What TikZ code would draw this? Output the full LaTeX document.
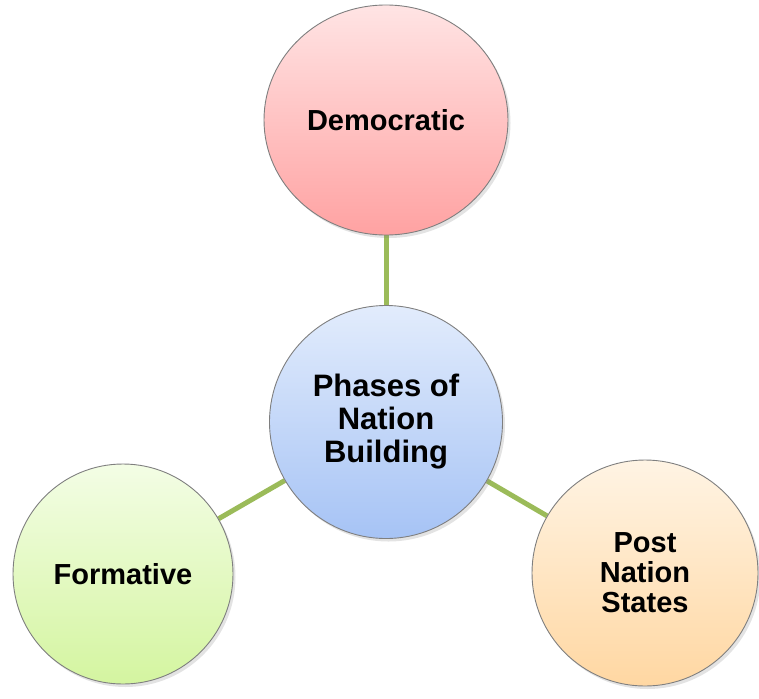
\documentclass[tikz,border=0pt]{standalone}
\usepackage{fontspec}
\setmainfont{Liberation Sans}
\usetikzlibrary{shapes.geometric,shadows,backgrounds}

\definecolor{linkgreen}{HTML}{9BBB59}
\definecolor{rimgray}{HTML}{7F7F7F}
\definecolor{redtop}{HTML}{FFE4E4}
\definecolor{redbot}{HTML}{FFA2A2}
\definecolor{bluetop}{HTML}{E2ECFC}
\definecolor{bluebot}{HTML}{A6C3F5}
\definecolor{greentop}{HTML}{F3FDE5}
\definecolor{greenbot}{HTML}{D4F5A0}
\definecolor{orangetop}{HTML}{FFF4E4}
\definecolor{orangebot}{HTML}{FFD7A2}

\tikzset{
  bubble/.style={
    draw=rimgray, line width=0.9pt, inner sep=0pt, align=center,
    font=\fontsize{29}{30}\selectfont\bfseries,
    shading=axis, shading angle=0,
    drop shadow={opacity=0.22, shadow xshift=2.5pt, shadow yshift=-3pt}
  },
  hubtext/.style={font=\fontsize{31}{33}\selectfont\bfseries},
  link/.style={draw=linkgreen, line width=5pt}
}

\begin{document}
\begin{tikzpicture}[x=1pt,y=-1pt]
  \useasboundingbox (0,0) rectangle (759,698);

  % hub and the three phases
  \node[bubble, hubtext, circle, minimum size=233pt,
        top color=bluetop, bottom color=bluebot] (hub) at (386,422)
        {Phases of\\Nation\\Building};
  \node[bubble, ellipse, minimum width=244pt, minimum height=230pt,
        top color=redtop, bottom color=redbot] (dem) at (386,120)
        {Democratic};
  \node[bubble, circle, minimum size=220pt,
        top color=greentop, bottom color=greenbot] (form) at (123,574)
        {Formative};
  \node[bubble, circle, minimum size=226pt,
        top color=orangetop, bottom color=orangebot] (post) at (645,573)
        {Post\\Nation\\States};

  % spokes behind the bubbles
  \begin{scope}[on background layer]
    \draw[link] (hub) -- (dem);
    \draw[link] (hub) -- (form);
    \draw[link] (hub) -- (post);
  \end{scope}
\end{tikzpicture}
\end{document}
